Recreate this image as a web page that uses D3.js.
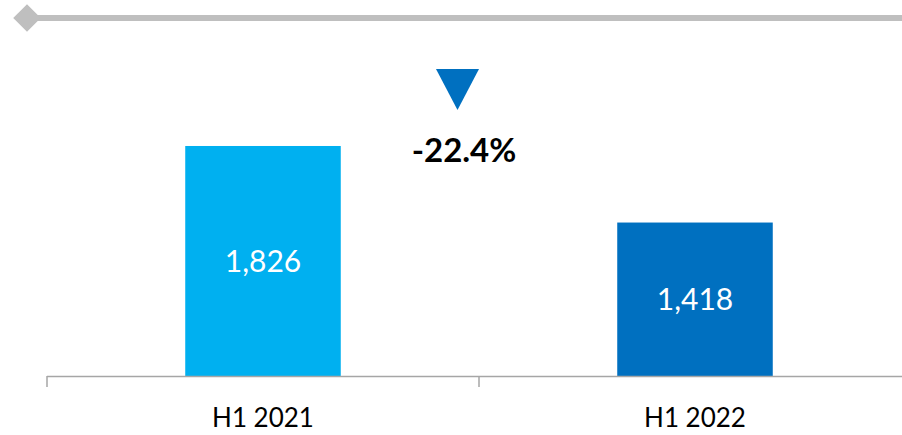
<!DOCTYPE html>
<html><head><meta charset="utf-8">
<script src="https://cdn.jsdelivr.net/npm/d3@7"></script>
<style>html,body{margin:0;padding:0;background:#fff;}svg{display:block;}</style>
</head><body>
<svg id="c" width="902" height="435"></svg>
<script>
const categories = ["H1 2021", "H1 2022"];
const values = [1826, 1418];
const valueLabels = ["1,826", "1,418"];
const changeLabel = "-22.4%";
const barColors = ["#00B0F0", "#0070C0"];

const svg = d3.select("#c");
const font = "Lato, 'Open Sans', sans-serif";

// header line with diamond
svg.append("line").attr("x1", 27).attr("x2", 902).attr("y1", 18).attr("y2", 18)
  .attr("stroke", "#BFBFBF").attr("stroke-width", 6);
svg.append("path").attr("d", d3.symbol().type(d3.symbolSquare).size(380)())
  .attr("transform", "translate(27,18) rotate(45)").attr("fill", "#BFBFBF");

const x = d3.scaleBand().domain(categories).range([47, 911])
  .paddingInner(0.64).paddingOuter(0.32);
const y = d3.scaleLinear().domain([600, 2400]).range([376, 38.3]);

// bars
svg.selectAll("rect.bar").data(values).join("rect").attr("class", "bar")
  .attr("x", (d, i) => x(categories[i]))
  .attr("width", x.bandwidth())
  .attr("y", d => y(d))
  .attr("height", d => y(600) - y(d))
  .attr("fill", (d, i) => barColors[i]);

// value labels
svg.selectAll("text.val").data(values).join("text").attr("class", "val")
  .attr("x", (d, i) => x(categories[i]) + x.bandwidth() / 2)
  .attr("y", d => (y(d) + y(600)) / 2)
  .attr("dy", "0.36em")
  .attr("text-anchor", "middle")
  .attr("font-family", font).attr("font-size", 30).attr("fill", "#fff")
  .text((d, i) => valueLabels[i]);

// axis line with category-boundary ticks
const step = x.step();
const x0 = x(categories[0]) - step * 0.32;
svg.append("line").attr("x1", x0).attr("x2", x0 + step * categories.length)
  .attr("y1", 376.5).attr("y2", 376.5).attr("stroke", "#A6A6A6").attr("stroke-width", 1.5);
svg.selectAll("line.tick").data(d3.range(categories.length + 1)).join("line").attr("class", "tick")
  .attr("x1", i => x0 + i * step).attr("x2", i => x0 + i * step)
  .attr("y1", 376).attr("y2", 387).attr("stroke", "#A6A6A6").attr("stroke-width", 1.5);

// category labels
svg.selectAll("text.cat").data(categories).join("text").attr("class", "cat")
  .attr("x", d => x(d) + x.bandwidth() / 2)
  .attr("y", 426.5)
  .attr("text-anchor", "middle")
  .attr("font-family", font).attr("font-size", 26).attr("fill", "#000")
  .text(d => d);

// change indicator
const mid = x0 + step;
const cx = mid - 21.5;
svg.append("path")
  .attr("d", d3.line()([[cx - 21.5, 69], [cx + 21.5, 69], [cx, 110]]) + "Z")
  .attr("fill", "#0070C0");
svg.append("text").attr("x", mid - 15).attr("y", 162)
  .attr("text-anchor", "middle")
  .attr("font-family", font).attr("font-weight", "bold").attr("font-size", 33).attr("fill", "#000")
  .text(changeLabel);
</script>
</body></html>
